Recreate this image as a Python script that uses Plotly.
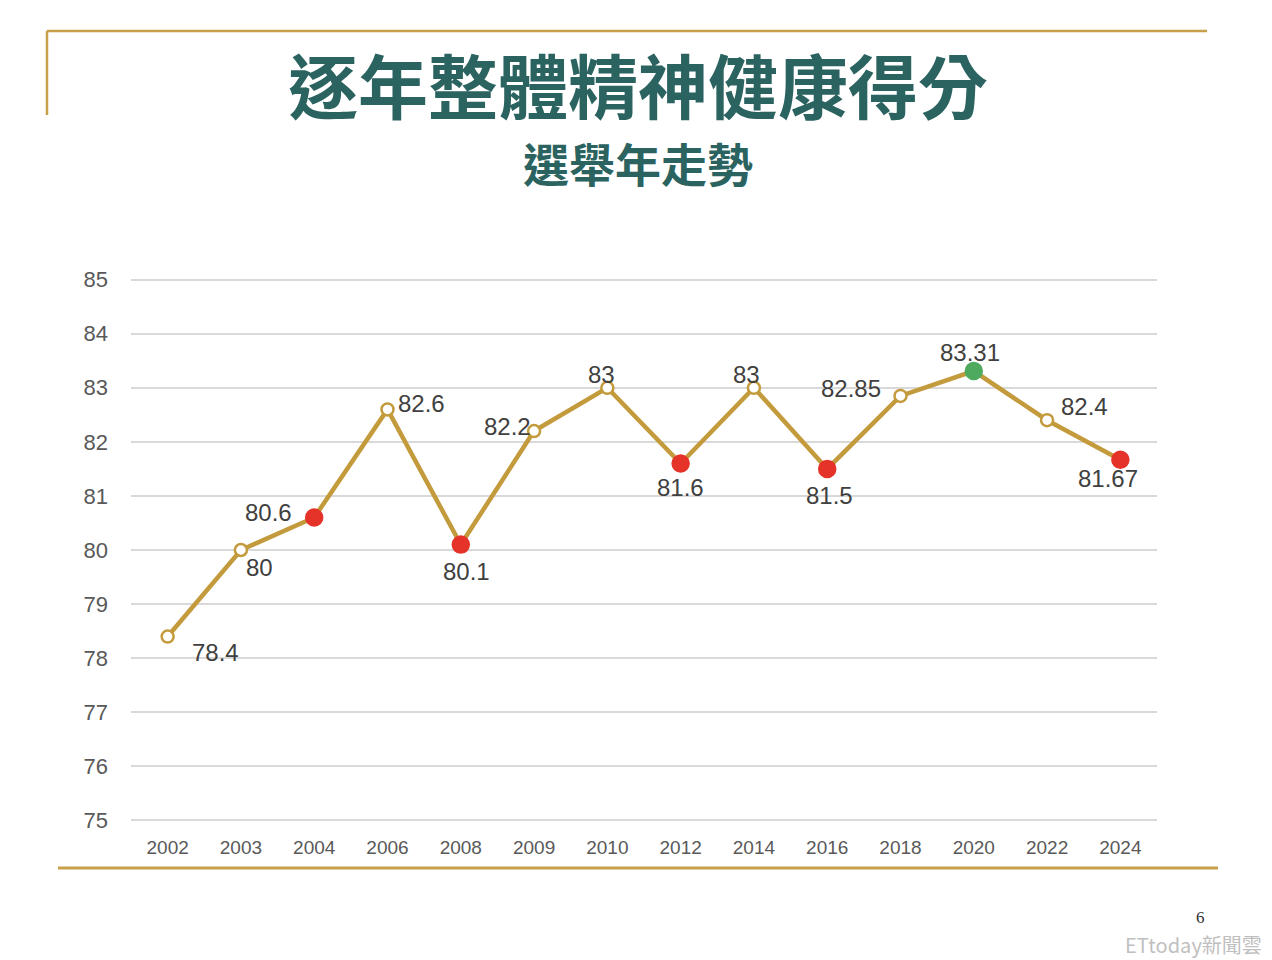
import plotly.graph_objects as go

years = ["2002", "2003", "2004", "2006", "2008", "2009", "2010", "2012", "2014", "2016", "2018", "2020", "2022", "2024"]
scores = [78.4, 80.0, 80.6, 82.6, 80.1, 82.2, 83.0, 81.6, 83.0, 81.5, 82.85, 83.31, 82.4, 81.67]
labels = ["78.4", "80", "80.6", "82.6", "80.1", "82.2", "83", "81.6", "83", "81.5", "82.85", "83.31", "82.4", "81.67"]
kinds = ["plain", "plain", "election", "plain", "election", "plain", "plain", "election", "plain", "election", "plain", "peak", "plain", "election"]
# label offsets in pixels (right, down) from each point
label_dx = [48, 19, -46, 34, 6, -27, -6, 0, -7, 2, -50, -4, 37, -12]
label_dy = [16, 17, -5, -6, 27, -5, -13, 24, -13, 27, -7, -19, -14, 19]

GOLD = "#C39B3C"
fill_map = {"plain": "white", "election": "#E5332A", "peak": "#4DAA5E"}
line_map = {"plain": GOLD, "election": "#E5332A", "peak": "#4DAA5E"}
size_map = {"plain": 12, "election": 16, "peak": 16}

# page geometry (the figure sits 8px in from the page corner)
OFF = 8
PL, PR, PT, PB = 131, 1157, 278, 822


def px(xp):
    return (xp - PL) / (PR - PL)


def py(yp):
    return (PB - yp) / (PB - PT)


fig = go.Figure()
fig.add_trace(go.Scatter(
    x=years, y=scores, mode="lines+markers",
    line=dict(color=GOLD, width=4.5),
    marker=dict(color=[fill_map[k] for k in kinds],
                size=[size_map[k] for k in kinds], opacity=1,
                line=dict(color=[line_map[k] for k in kinds], width=2.5)),
    cliponaxis=False, hoverinfo="skip", showlegend=False,
))

annotations = []
for i, (val, lab, dx, dy) in enumerate(zip(scores, labels, label_dx, label_dy)):
    annotations.append(dict(x=i, y=val, xref="x", yref="y", text=lab, showarrow=False,
                            xanchor="center", yanchor="middle", xshift=dx, yshift=-dy,
                            font=dict(family="Liberation Sans, Arial", size=24, color="#404040")))

annotations += [
    dict(text="<b>逐年整體精神健康得分</b>", xref="paper", yref="paper", x=px(638), y=py(83),
         showarrow=False, xanchor="center", yanchor="middle",
         font=dict(family="Noto Sans CJK TC", size=70, color="#2B6360")),
    dict(text="<b>選舉年走勢</b>", xref="paper", yref="paper", x=px(638), y=py(162),
         showarrow=False, xanchor="center", yanchor="middle",
         font=dict(family="Noto Sans CJK TC", size=46, color="#2B6360")),
    dict(text="6", xref="paper", yref="paper", x=px(1200), y=py(917),
         showarrow=False, xanchor="center", yanchor="middle",
         font=dict(family="Liberation Serif", size=17, color="#333333")),
    dict(text="ETtoday新聞雲", xref="paper", yref="paper", x=px(1264), y=py(944),
         showarrow=False, xanchor="right", yanchor="middle",
         font=dict(family="Noto Sans CJK TC", size=20, color="#BFBFBF")),
]

fig.update_layout(
    width=1272, height=960,
    paper_bgcolor="white", plot_bgcolor="white",
    margin=dict(l=PL - OFF, r=1272 - PR + OFF, t=PT - OFF, b=960 - PB + OFF),
    xaxis=dict(type="category", range=[-0.5, 13.5], showgrid=False, zeroline=False, showline=False,
               ticks="", ticklabelstandoff=12,
               tickfont=dict(family="Liberation Sans Narrow, Liberation Sans", size=19, color="#595959")),
    yaxis=dict(range=[74.97, 85.03], tickvals=list(range(75, 86)), showgrid=True, gridcolor="#D9D9D9", gridwidth=1.5,
               zeroline=False, showline=False, ticks="", ticklabelstandoff=22,
               tickfont=dict(family="Liberation Sans, Arial", size=22, color="#595959")),
    shapes=[
        dict(type="line", xref="paper", yref="paper", x0=px(47), x1=px(1207), y0=py(31), y1=py(31),
             line=dict(color="#C8A04A", width=2.5)),
        dict(type="line", xref="paper", yref="paper", x0=px(47), x1=px(47), y0=py(31), y1=py(115),
             line=dict(color="#C8A04A", width=2.5)),
        dict(type="line", xref="paper", yref="paper", x0=px(58), x1=px(1218), y0=py(868), y1=py(868),
             line=dict(color="#C8A04A", width=3)),
    ],
    annotations=annotations,
)

fig.write_html("out.html")
